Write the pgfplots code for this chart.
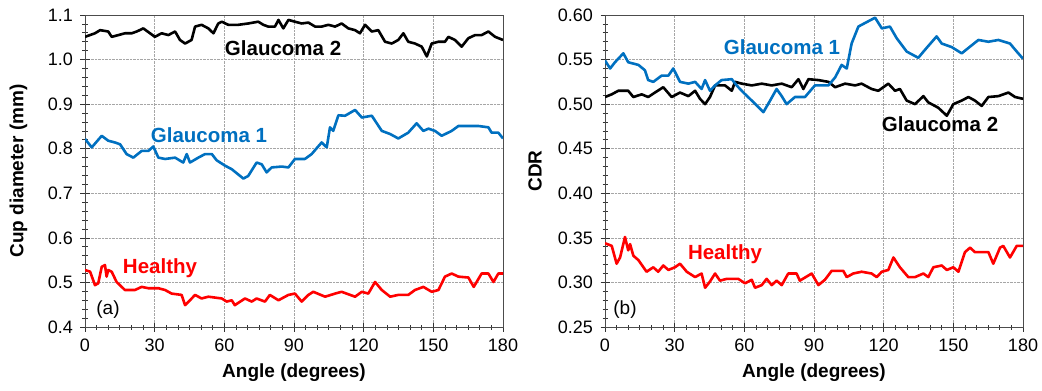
\documentclass[border=0pt]{standalone}
\usepackage{pgfplots}
\pgfplotsset{compat=1.18}
\usepackage{fontspec}
\setmainfont{Liberation Sans}
\definecolor{gblue}{RGB}{0,112,192}
\definecolor{gred}{RGB}{255,0,0}
\tikzset{ann/.style={font=\bfseries\fontsize{20.5}{22}\selectfont}}
\pgfplotsset{
  common/.style={
    scale only axis, width=418pt, height=312pt,
    anchor=south west,
    xmin=0, xmax=180, xtick={0,30,60,90,120,150,180}, minor x tick num=5,
    tick align=center, major tick length=9pt, minor tick length=5pt,
    tick pos=left,
    grid=major, major grid style={densely dotted, gray!70, line width=0.7pt},
    axis line style={gray!60!black, line width=0.8pt},
    tick style={gray!40!black, line width=0.7pt},
    ticklabel style={font=\fontsize{18}{18}\selectfont},
    /pgf/number format/assume math mode=true,
    label style={font=\bfseries\fontsize{19}{20}\selectfont},
    xlabel={Angle (degrees)},
    xlabel style={at={(axis description cs:0.5,-0.147)}, anchor=center},
    xticklabel style={yshift=-4pt},
    yticklabel style={xshift=-4pt},
    every axis plot/.append style={line width=2.6pt, line join=round},
  }
}
\begin{document}
\begin{tikzpicture}
\path[use as bounding box] (0,0) rectangle (1042pt,-391pt);
% ---------------- (a) ----------------
\begin{axis}[common, at={(85pt,-327pt)},
  ymin=0.4, ymax=1.1, ytick={0.4,0.5,0.6,0.7,0.8,0.9,1.0,1.1}, minor y tick num=4,
  yticklabel style={/pgf/number format/.cd, fixed, fixed zerofill, precision=1},
  ylabel={Cup diameter (mm)},
  ylabel style={at={(axis description cs:-0.159,0.5)}, anchor=center}]
\addplot[black] coordinates {(0,1.051)(4.3,1.059)(6.5,1.066)(10.0,1.063)(11.5,1.051)(14.4,1.055)(17.2,1.059)(20.1,1.059)(22.3,1.063)(25.1,1.070)(28.0,1.059)(30.1,1.051)(33.0,1.059)(35.9,1.055)(38.8,1.063)(40.9,1.044)(43.1,1.036)(45.9,1.044)(47.4,1.074)(50.2,1.078)(53.1,1.070)(55.3,1.059)(57.4,1.081)(58.9,1.085)(61.7,1.078)(66.0,1.078)(70.3,1.081)(74.6,1.085)(76.8,1.078)(78.9,1.074)(81.8,1.074)(83.3,1.089)(85.4,1.070)(87.6,1.089)(90.4,1.085)(93.3,1.081)(96.2,1.083)(99.1,1.074)(101.9,1.074)(104.8,1.078)(107.7,1.074)(110.5,1.081)(113.4,1.070)(116.3,1.066)(118.4,1.059)(120.6,1.078)(123.5,1.063)(126.3,1.066)(129.2,1.040)(132.1,1.036)(134.9,1.044)(137.1,1.059)(139.2,1.040)(142.1,1.036)(145.0,1.029)(147.2,1.007)(149.3,1.036)(152.2,1.040)(155.0,1.040)(156.5,1.051)(159.3,1.044)(162.2,1.029)(165.1,1.048)(168.0,1.055)(170.8,1.055)(173.7,1.063)(176.6,1.051)(180,1.044)};
\addplot[gblue] coordinates {(0,0.822)(2.9,0.803)(7.2,0.829)(10.0,0.818)(12.9,0.814)(15.1,0.810)(17.9,0.788)(20.8,0.780)(24.4,0.795)(27.3,0.795)(29.4,0.805)(31.6,0.780)(34.5,0.777)(38.8,0.780)(42.3,0.769)(43.8,0.788)(45.2,0.769)(48.8,0.780)(51.7,0.788)(54.6,0.788)(56.7,0.774)(60.3,0.762)(63.2,0.754)(68.2,0.733)(70.3,0.739)(73.9,0.769)(76.1,0.765)(78.2,0.747)(80.4,0.758)(84.7,0.760)(87.6,0.758)(90.4,0.777)(94.7,0.777)(97.6,0.788)(101.9,0.814)(104.1,0.803)(105.5,0.848)(106.9,0.840)(109.1,0.875)(112.0,0.874)(116.3,0.887)(119.2,0.870)(123.5,0.874)(127.8,0.840)(131.4,0.833)(134.9,0.823)(139.2,0.836)(142.8,0.857)(145.7,0.840)(147.9,0.845)(150.7,0.840)(153.6,0.829)(157.9,0.840)(160.8,0.851)(165.1,0.851)(169.4,0.851)(173.7,0.848)(175.1,0.836)(178.0,0.836)(180,0.823)};
\addplot[gred] coordinates {(0,0.528)(2.2,0.524)(4.3,0.494)(5.7,0.498)(7.2,0.535)(8.6,0.539)(9.3,0.513)(10.0,0.528)(11.5,0.524)(13.6,0.501)(17.2,0.483)(21.5,0.483)(24.4,0.490)(27.3,0.487)(31.6,0.487)(34.5,0.483)(37.3,0.475)(41.6,0.472)(43.1,0.449)(45.2,0.460)(47.4,0.472)(50.2,0.464)(53.1,0.468)(58.9,0.464)(61.0,0.457)(63.2,0.460)(64.5,0.449)(68.9,0.464)(71.8,0.457)(73.9,0.464)(77.5,0.457)(79.6,0.472)(83.3,0.460)(87.6,0.472)(90.4,0.475)(93.3,0.457)(96.2,0.472)(98.3,0.479)(103.4,0.468)(107.7,0.475)(110.5,0.479)(116.3,0.468)(119.2,0.479)(122.0,0.475)(124.9,0.501)(127.8,0.483)(131.4,0.468)(134.9,0.472)(139.2,0.472)(142.1,0.483)(145.7,0.490)(149.3,0.479)(152.2,0.483)(155.0,0.513)(157.9,0.520)(160.8,0.513)(165.1,0.511)(167.4,0.490)(170.8,0.520)(173.7,0.520)(175.9,0.501)(178.0,0.520)(180,0.520)};
\node[ann, text=black] at (axis cs:85.3,1.026) {Glaucoma 2};
\node[ann, text=gblue] at (axis cs:53.4,0.831) {Glaucoma 1};
\node[ann, text=gred] at (axis cs:32.3,0.533) {Healthy};
\node[font=\fontsize{19}{20}\selectfont] at (axis cs:9.9,0.439) {(a)};
\end{axis}
% ---------------- (b) ----------------
\begin{axis}[common, at={(605pt,-327pt)},
  ymin=0.25, ymax=0.60, ytick={0.25,0.30,0.35,0.40,0.45,0.50,0.55,0.60}, minor y tick num=4,
  yticklabel style={/pgf/number format/.cd, fixed, fixed zerofill, precision=2},
  ylabel={CDR},
  ylabel style={at={(axis description cs:-0.167,0.5)}, anchor=center}]
\addplot[black] coordinates {(0,0.508)(2.9,0.511)(5.7,0.515)(10.0,0.515)(12.2,0.508)(15.8,0.511)(18.6,0.508)(21.5,0.513)(25.1,0.519)(28.7,0.508)(32.3,0.513)(35.9,0.509)(38.8,0.515)(40.9,0.506)(43.1,0.500)(45.2,0.508)(47.4,0.521)(51.7,0.521)(54.6,0.515)(56.0,0.525)(58.9,0.523)(63.2,0.521)(67.5,0.523)(71.8,0.521)(76.1,0.523)(80.4,0.519)(83.3,0.528)(85.4,0.517)(87.6,0.528)(91.9,0.527)(96.2,0.525)(99.1,0.519)(103.4,0.523)(107.7,0.521)(110.5,0.523)(114.8,0.517)(117.7,0.515)(122.0,0.523)(124.9,0.515)(127.0,0.517)(129.9,0.504)(133.5,0.500)(137.1,0.509)(139.2,0.502)(143.5,0.496)(147.2,0.487)(150.0,0.500)(153.6,0.504)(156.5,0.508)(159.3,0.504)(162.2,0.498)(165.1,0.508)(169.4,0.509)(173.7,0.513)(176.6,0.508)(180,0.506)};
\addplot[gblue] coordinates {(0,0.549)(2.2,0.540)(4.3,0.547)(7.9,0.557)(10.0,0.547)(14.4,0.544)(17.2,0.538)(18.6,0.527)(20.8,0.525)(24.4,0.532)(27.3,0.532)(29.4,0.540)(32.3,0.525)(35.9,0.523)(38.8,0.525)(41.6,0.517)(43.1,0.527)(45.2,0.515)(47.4,0.521)(50.2,0.527)(54.6,0.528)(56.7,0.521)(59.6,0.513)(63.2,0.504)(68.2,0.491)(71.1,0.504)(73.9,0.517)(76.1,0.509)(78.2,0.500)(81.8,0.508)(86.1,0.508)(90.4,0.521)(96.2,0.521)(99.1,0.530)(101.9,0.544)(104.1,0.540)(106.2,0.568)(109.1,0.587)(110.5,0.589)(116.3,0.597)(119.2,0.585)(122.7,0.587)(125.6,0.574)(129.9,0.559)(134.9,0.552)(137.8,0.561)(142.8,0.576)(145.0,0.568)(149.3,0.564)(153.6,0.557)(157.9,0.566)(160.8,0.572)(165.1,0.570)(169.4,0.572)(174.4,0.568)(177.3,0.559)(180,0.551)};
\addplot[gred] coordinates {(0,0.344)(2.9,0.341)(5.0,0.321)(6.5,0.328)(8.6,0.351)(10.0,0.336)(10.8,0.343)(12.2,0.330)(14.4,0.325)(17.9,0.312)(20.8,0.317)(22.9,0.312)(25.1,0.319)(27.3,0.314)(30.1,0.317)(32.3,0.321)(35.2,0.312)(38.8,0.306)(41.6,0.310)(43.1,0.294)(45.2,0.301)(47.4,0.310)(49.5,0.302)(52.4,0.304)(57.4,0.304)(60.3,0.299)(63.2,0.303)(64.6,0.294)(67.5,0.297)(69.6,0.304)(71.8,0.297)(73.9,0.302)(76.1,0.297)(78.9,0.310)(82.5,0.310)(83.9,0.302)(89.0,0.310)(91.9,0.297)(94.7,0.303)(97.6,0.313)(102.6,0.313)(104.1,0.306)(106.9,0.310)(110.5,0.312)(114.8,0.310)(117.0,0.306)(119.2,0.312)(122.0,0.314)(124.2,0.328)(127.0,0.317)(130.6,0.306)(133.5,0.306)(137.1,0.310)(139.2,0.306)(141.4,0.317)(145.0,0.319)(147.2,0.314)(150.0,0.317)(152.2,0.312)(155.0,0.334)(157.2,0.339)(159.3,0.334)(162.2,0.334)(165.1,0.334)(167.2,0.321)(170.1,0.339)(171.5,0.341)(174.4,0.328)(177.3,0.341)(180,0.341)};
\node[ann, text=gblue] at (axis cs:76.2,0.564) {Glaucoma 1};
\node[ann, text=black] at (axis cs:144.3,0.477) {Glaucoma 2};
\node[ann, text=gred] at (axis cs:51.7,0.332) {Healthy};
\node[font=\fontsize{19}{20}\selectfont] at (axis cs:8.6,0.269) {(b)};
\end{axis}
\end{tikzpicture}
\end{document}
